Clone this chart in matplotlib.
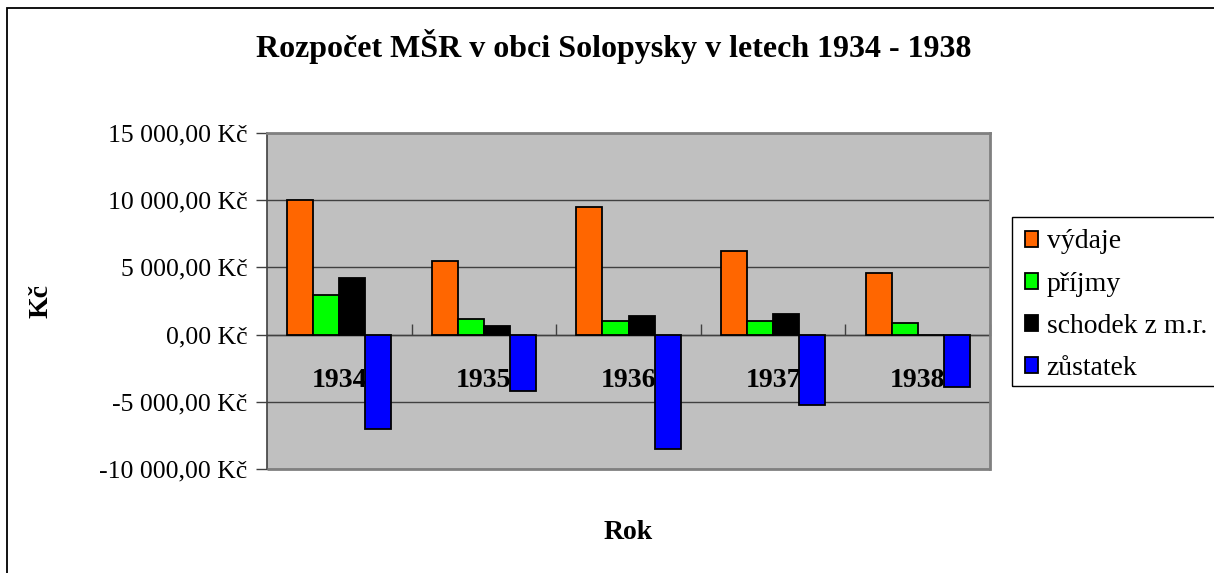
import matplotlib.pyplot as plt
from matplotlib.patches import Rectangle
from matplotlib.ticker import FuncFormatter, FixedLocator
import numpy as np

# values (Kč)
years = ['1934', '1935', '1936', '1937', '1938']
vydaje = [10000, 5500, 9530, 6250, 4620]
prijmy = [2950, 1170, 1020, 1040, 890]
schodek = [4200, 620, 1370, 1510, 0]
zustatek = [-7020, -4170, -8510, -5230, -3870]

series = [('výdaje', vydaje, '#FF6600'),
          ('příjmy', prijmy, '#00FF00'),
          ('schodek z m.r.', schodek, '#000000'),
          ('zůstatek', zustatek, '#0000FF')]

plt.rcParams['font.family'] = ['Liberation Serif', 'DejaVu Serif']

W, H = 1214, 573
fig = plt.figure(figsize=(W / 100, H / 100), dpi=100)
ax = fig.add_axes([267 / W, 1 - 469 / H, 723 / W, 336 / H])
ax.set_facecolor('#C0C0C0')

x = np.arange(len(years))
bw = 0.18
for i, (name, vals, col) in enumerate(series):
    ax.bar(x + (i - 1.5) * bw, vals, bw, color=col, edgecolor='black',
           linewidth=1.3, label=name, zorder=3)

ax.set_xlim(-0.5, len(years) - 0.5)
ax.set_ylim(-10000, 15000)
ax.set_yticks(np.arange(-10000, 15001, 5000))

def kc(v, pos):
    return f"{v:,.2f}".replace(',', ' ').replace('.', ',') + ' Kč'

ax.yaxis.set_major_formatter(FuncFormatter(kc))
ax.tick_params(axis='y', direction='out', length=8, width=1, colors='#404040',
               labelcolor='black', labelsize=18.5, pad=6)
ax.grid(axis='y', color='#404040', linewidth=1, zorder=1)
ax.set_axisbelow(True)

# category axis crosses at zero
ax.spines['bottom'].set_position(('data', 0))
ax.spines['bottom'].set_color('#404040')
ax.spines['bottom'].set_linewidth(1)
ax.spines['bottom'].set_zorder(2)
ax.set_xticks(x)
ax.set_xticklabels(years, fontweight='bold')
ax.tick_params(axis='x', which='major', length=0, labelsize=20, pad=24)
ax.xaxis.set_minor_locator(FixedLocator(np.arange(0.5, len(years) + 0.5, 1.0)))
ax.tick_params(axis='x', which='minor', direction='in', length=8, width=1,
               colors='#404040')

ax.spines['left'].set_color('#404040')
ax.spines['left'].set_linewidth(1.2)
for s in ('top', 'right'):
    ax.spines[s].set_color('#808080')
    ax.spines[s].set_linewidth(2)
ax.add_patch(Rectangle((0, 0), 1, 0, transform=ax.transAxes, fill=False,
                       edgecolor='#808080', linewidth=2, clip_on=False, zorder=4))

ax.set_ylabel('Kč', fontsize=20, fontweight='bold')
ax.yaxis.set_label_coords((53 - 267) / 723, 0.5)
ax.set_xlabel('Rok', fontsize=20, fontweight='bold')
ax.xaxis.set_label_coords(0.5, (469 - 520) / 336)

fig.text(614 / W, 1 - 47 / H, 'Rozpočet MŠR v obci Solopysky v letech 1934 - 1938',
         ha='center', va='center', fontsize=23, fontweight='bold')

leg = ax.legend(loc='upper left', bbox_to_anchor=(1012 / W, 1 - 217 / H),
                bbox_transform=fig.transFigure, fontsize=20, frameon=False,
                borderaxespad=0,
                handlelength=0.5, handleheight=0.5, handletextpad=0.3,
                labelspacing=0.62, borderpad=0.45)

# legend box
fig.patches.append(Rectangle((1012 / W, 1 - 386 / H), 0.2, 169 / H,
                             transform=fig.transFigure, fill=False,
                             edgecolor='black', linewidth=1))

# outer chart border
fig.patches.append(Rectangle((7 / W, -0.1), 1.1, 1.1 - 8 / H,
                             transform=fig.transFigure, fill=False,
                             edgecolor='black', linewidth=1.3))

fig.savefig('out.png', dpi=100)
